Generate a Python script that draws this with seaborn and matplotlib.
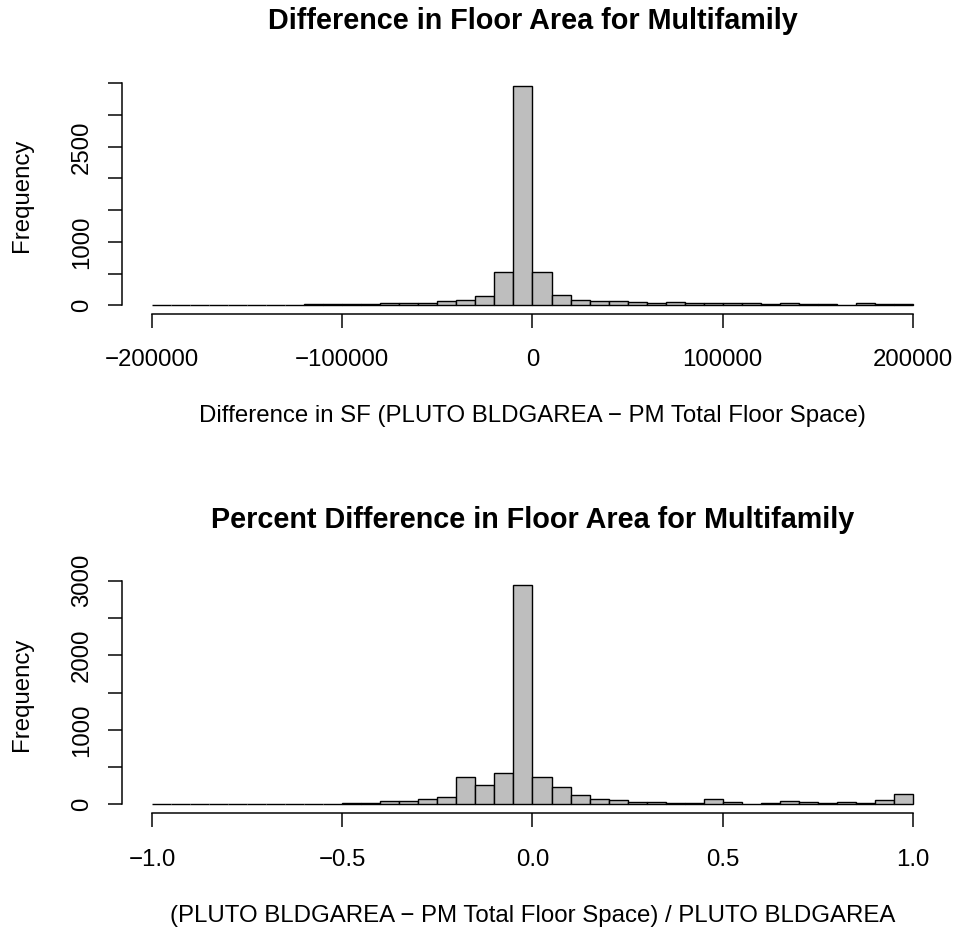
import numpy as np
import pandas as pd
import matplotlib
matplotlib.use("Agg")
import matplotlib.pyplot as plt
import seaborn as sns

# Bin layout of the two histograms (40 equal-width bins each)
sf_range = (-200000, 200000)
pct_range = (-1.0, 1.0)
n_bins = 40

# Counts per bin: difference in square feet (PLUTO BLDGAREA - PM Total Floor Space)
sf_counts = [4, 3, 5, 4, 6, 5, 8, 9, 15, 18,
             14, 22, 28, 35, 40, 74, 84, 152, 530, 3465,
             520, 161, 87, 62, 60, 46, 40, 55, 42, 35,
             30, 30, 25, 35, 20, 12, 2, 38, 20, 12]

# Counts per bin: percent difference relative to PLUTO BLDGAREA
pct_counts = [10, 2, 3, 3, 3, 5, 5, 5, 6, 6,
              15, 18, 40, 49, 72, 103, 371, 264, 416, 2944,
              362, 233, 121, 67, 58, 36, 27, 18, 18, 72,
              27, 9, 18, 40, 31, 13, 36, 22, 54, 134]

sf_xticks = [-200000, -100000, 0, 100000, 200000]
sf_xlabels = ["\u2212200000", "\u2212100000", "0", "100000", "200000"]
sf_yticks = [0, 500, 1000, 1500, 2000, 2500, 3000, 3500]
sf_ylabels = ["0", "", "1000", "", "", "2500", "", ""]

pct_xticks = [-1.0, -0.5, 0.0, 0.5, 1.0]
pct_xlabels = ["\u22121.0", "\u22120.5", "0.0", "0.5", "1.0"]
pct_yticks = [0, 500, 1000, 1500, 2000, 2500, 3000]
pct_ylabels = ["0", "", "1000", "", "2000", "", "3000"]

sns.set_style("white")
plt.rcParams["font.family"] = ["Liberation Sans", "DejaVu Sans"]
plt.rcParams["font.size"] = 12
for key in ("text.color", "axes.labelcolor", "xtick.color", "ytick.color",
            "axes.edgecolor"):
    plt.rcParams[key] = "black"

DPI = 144
fig = plt.figure(figsize=(956 / DPI, 930 / DPI), dpi=DPI)
ax_top = fig.add_axes([0.1272, 0.6624, 0.8596, 0.2549])
ax_bot = fig.add_axes([0.1272, 0.1256, 0.8596, 0.2549])


def draw_hist(ax, rng, counts, xticks, xlabels, yticks, ylabels, title, xlabel):
    width = (rng[1] - rng[0]) / n_bins
    centers = rng[0] + width * (np.arange(n_bins) + 0.5)
    df = pd.DataFrame({"value": centers, "count": counts})
    sns.histplot(data=df, x="value", weights="count", binwidth=width, binrange=rng,
                 color="#BEBEBE", edgecolor="black", linewidth=0.7, alpha=1, ax=ax)
    top = max(counts)
    span = rng[1] - rng[0]
    ax.set_xlim(rng[0] - 0.04 * span, rng[1] + 0.04 * span)
    ax.set_ylim(-0.04 * top, 1.04 * top)
    for side in ("top", "right"):
        ax.spines[side].set_visible(False)
    ax.spines["left"].set_bounds(yticks[0], yticks[-1])
    ax.spines["bottom"].set_bounds(xticks[0], xticks[-1])
    for side in ("left", "bottom"):
        ax.spines[side].set_linewidth(0.75)
        ax.spines[side].set_color("black")
    ax.set_xticks(xticks)
    ax.set_xticklabels(xlabels)
    ax.set_yticks(yticks)
    ax.set_yticklabels(ylabels, rotation=90, va="center")
    ax.tick_params(axis="both", direction="out", length=7.2, width=0.75,
                   color="black", labelcolor="black", labelsize=12,
                   left=True, bottom=True)
    ax.tick_params(axis="x", pad=10.5)
    ax.tick_params(axis="y", pad=7)
    ax.set_xlabel(xlabel, fontsize=12, labelpad=17, color="black")
    ax.set_ylabel("Frequency", fontsize=12, labelpad=19, color="black")
    ax.set_title(title, fontsize=14.4, fontweight="bold", pad=24, color="black")


draw_hist(ax_top, sf_range, sf_counts, sf_xticks, sf_xlabels, sf_yticks, sf_ylabels,
          "Difference in Floor Area for Multifamily",
          "Difference in SF (PLUTO BLDGAREA \u2212 PM Total Floor Space)")
draw_hist(ax_bot, pct_range, pct_counts, pct_xticks, pct_xlabels, pct_yticks, pct_ylabels,
          "Percent Difference in Floor Area for Multifamily",
          "(PLUTO BLDGAREA \u2212 PM Total Floor Space) / PLUTO BLDGAREA")

fig.savefig("out.png", dpi=DPI, facecolor="white")
